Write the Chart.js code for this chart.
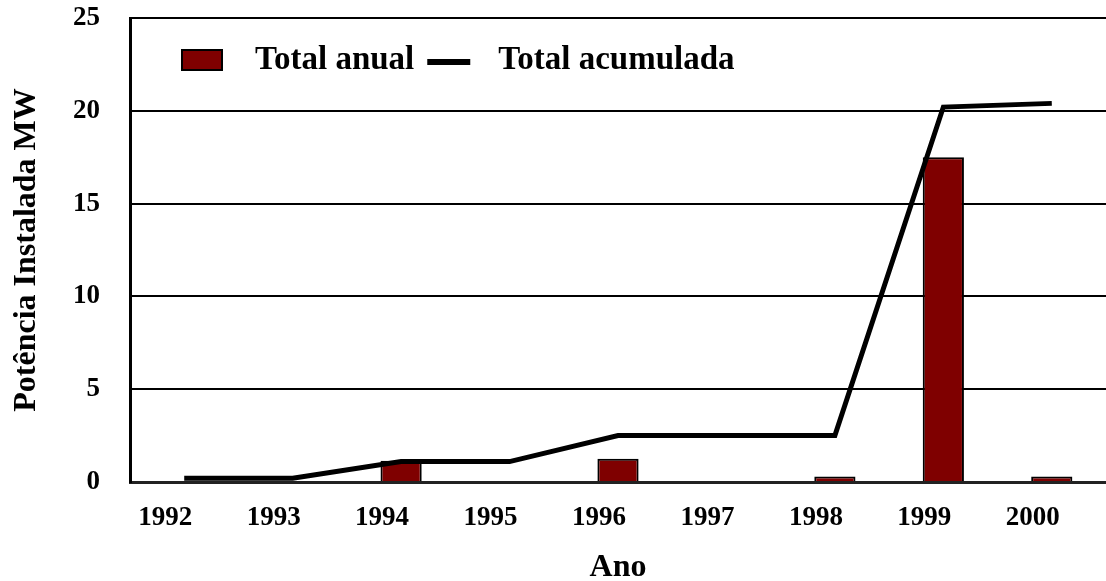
<!DOCTYPE html>
<html>
<head>
<meta charset="utf-8">
<script src="https://cdn.jsdelivr.net/npm/chart.js@4.4.1/dist/chart.umd.min.js"></script>
<style>
  html, body { margin: 0; padding: 0; background: #fff; }
  #wrap { width: 1106px; height: 581px; }
</style>
</head>
<body>
<div id="wrap"><canvas id="potChart" width="1106" height="581"></canvas></div>
<script>
// Data
const years = ['1992', '1993', '1994', '1995', '1996', '1997', '1998', '1999', '2000'];
const totalAnual = [0, 0, 1.15, 0, 1.25, 0, 0.3, 17.5, 0.3];
const totalAcumulada = [0.2, 0.2, 1.1, 1.1, 2.5, 2.5, 2.5, 20.2, 20.4];
const yTicks = [0, 5, 10, 15, 20, 25];

const serif = '"Liberation Serif", "Times New Roman", serif';

// legend drawn inside the plot, one row, like the original
const inlineLegend = {
    id: 'inlineLegend',
    afterDraw(chart) {
        const c = chart.ctx;
        const area = chart.chartArea;
        const ds = chart.data.datasets;
        const midY = area.top + 42;
        c.save();
        c.font = 'bold 33px ' + serif;
        c.textBaseline = 'middle';
        c.fillStyle = '#000';
        let x = area.left + 52;
        // bar item
        c.fillStyle = ds[0].backgroundColor;
        c.fillRect(x, midY - 10, 40, 20);
        c.strokeStyle = '#000';
        c.lineWidth = 2;
        c.strokeRect(x, midY - 10, 40, 20);
        x += 40 + 33;
        c.fillStyle = '#000';
        c.fillText(ds[0].label, x, midY);
        x += c.measureText(ds[0].label).width + 13;
        // line item
        c.beginPath();
        c.moveTo(x, midY + 2);
        c.lineTo(x + 43, midY + 2);
        c.lineWidth = 6;
        c.strokeStyle = ds[1].borderColor;
        c.stroke();
        x += 43 + 28;
        c.fillText(ds[1].label, x, midY);
        c.restore();
    }
};

const ctx = document.getElementById('potChart').getContext('2d');
const potChart = new Chart(ctx, {
    type: 'bar',
    data: {
        labels: years,
        datasets: [{
            type: 'bar',
            label: 'Total anual',
            data: totalAnual,
            backgroundColor: '#7f0000',
            borderColor: '#000',
            borderWidth: 2,
            borderSkipped: 'start',
            barPercentage: 0.38,
            categoryPercentage: 1,
            order: 1
        }, {
            type: 'line',
            label: 'Total acumulada',
            data: totalAcumulada,
            borderColor: '#000',
            backgroundColor: '#000',
            borderWidth: 5,
            tension: 0,
            pointRadius: 0,
            fill: false,
            order: 0
        }]
    },
    plugins: [inlineLegend],
    options: {
        responsive: false,
        animation: false,
        layout: { padding: 0 },
        plugins: {
            tooltip: { enabled: false },
            legend: { display: false }
        },
        scales: {
            x: {
                grid: { display: false, drawTicks: false },
                border: { display: true, color: '#222', width: 3 },
                ticks: {
                    color: '#000',
                    padding: 20,
                    labelOffset: -19,
                    font: { family: serif, size: 27, weight: 'bold' }
                },
                title: {
                    display: true,
                    text: 'Ano',
                    color: '#000',
                    padding: { top: 20, bottom: -6 },
                    font: { family: serif, size: 32, weight: 'bold' }
                },
                afterFit: function(scale) { scale.height = 99; }
            },
            y: {
                min: 0,
                max: 25,
                afterBuildTicks: function(scale) {
                    scale.ticks = yTicks.map(v => ({ value: v }));
                },
                grid: { color: '#000', lineWidth: 2, drawTicks: false },
                border: { display: true, color: '#000', width: 3 },
                ticks: {
                    color: '#000',
                    padding: 30,
                    font: { family: serif, size: 27, weight: 'bold' }
                },
                title: {
                    display: true,
                    text: 'Potência Instalada MW',
                    color: '#000',
                    padding: { top: 8, bottom: 0 },
                    font: { family: serif, size: 32, weight: 'bold' }
                },
                afterFit: function(scale) {
                    scale.width = 130;
                    scale.paddingTop = 18;
                    scale.paddingBottom = 0;
                }
            }
        }
    }
});
</script>
</body>
</html>
